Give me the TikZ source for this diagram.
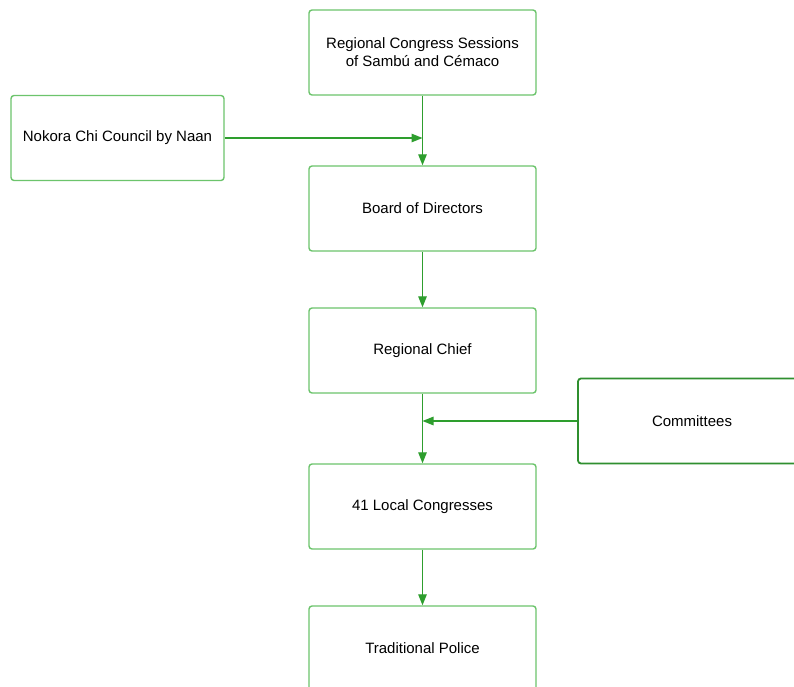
\documentclass[tikz,border=0pt]{standalone}
\usepackage{fontspec}
\setmainfont{Liberation Sans}
\usetikzlibrary{arrows.meta}
\definecolor{boxgreen}{HTML}{6CC46C}
\definecolor{arrgreen}{HTML}{2E9E2E}
\definecolor{darkbox}{HTML}{2F8F2F}
\tikzset{
  orgbox/.style={draw=boxgreen, line width=1.4pt, rounded corners=3pt, minimum width=227pt, minimum height=85pt, align=center, inner sep=0pt, font=\fontsize{15}{18}\selectfont, text=black},
  darkorg/.style={orgbox, draw=darkbox, line width=1.8pt},
  link/.style={draw=arrgreen, line width=1.3pt, -{Triangle[length=11pt,width=8.5pt]}}
}
\begin{document}
\begin{tikzpicture}[x=1pt,y=-1pt]
\useasboundingbox (0,0) rectangle (794,687);
\clip (0,0) rectangle (794,687);
\fill[white] (0,0) rectangle (794,687);
\node[orgbox] (top) at (422.5,52.5) {Regional Congress Sessions\\of Sambú and Cémaco};
\node[orgbox, minimum width=213pt] (nokora) at (117.5,138) {Nokora Chi Council by Naan};
\node[orgbox] (board) at (422.5,208.5) {Board of Directors};
\node[orgbox] (chief) at (422.5,350.5) {Regional Chief};
\node[darkorg, minimum width=228pt] (comm) at (692,421) {Committees};
\node[orgbox] (local) at (422.5,506.5) {41 Local Congresses};
\node[orgbox] (police) at (422.5,648.5) {Traditional Police};
\coordinate (j1) at (top.south |- nokora.east);
\coordinate (j2) at (chief.south |- comm.west);
\draw[link] (top.south) -- (board.north);
\draw[link] (nokora.east) -- (j1);
\draw[link] (board.south) -- (chief.north);
\draw[link] (chief.south) -- (local.north);
\draw[link] (comm.west) -- (j2);
\draw[link] (local.south) -- (police.north);
\end{tikzpicture}
\end{document}
